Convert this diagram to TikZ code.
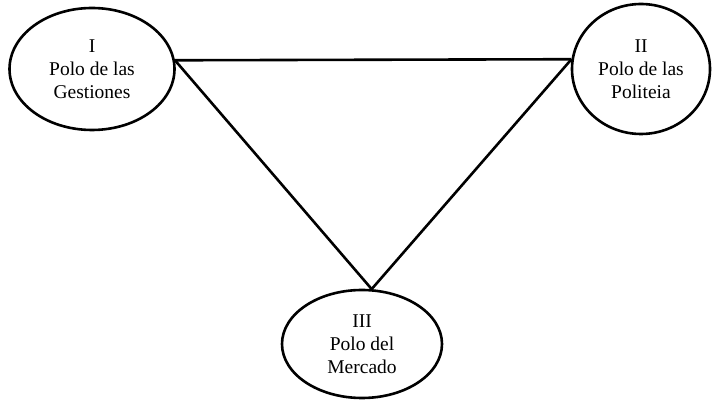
\documentclass[tikz,border=0pt]{standalone}
\usepackage{fontspec}
\setmainfont{Liberation Serif}
\usetikzlibrary{shapes.geometric}
\tikzstyle{polo}=[draw, ellipse, line width=2.6pt, inner sep=0pt, align=center, font=\fontsize{19.5}{23}\selectfont]
\tikzstyle{link}=[line width=2.6pt]

\begin{document}
\begin{tikzpicture}[x=1pt, y=1pt]
        \useasboundingbox (0, 0) rectangle (712, 401);
        \node[polo, minimum width=165pt, minimum height=122pt] (P1) at (92, 332) {I\\Polo de las\\Gestiones};
        \node[polo, minimum width=138pt, minimum height=130pt] (P2) at (641, 332) {II\\Polo de las\\Politeia};
        \node[polo, minimum width=160pt, minimum height=108pt] (P3) at (362, 57) {III\\Polo del\\Mercado};
        \draw[link] (P1.6) -- (P2.172);
        \draw[link] (P1.6) -- (P3.80);
        \draw[link] (P2.172) -- (P3.80);
    \end{tikzpicture}
\end{document}
